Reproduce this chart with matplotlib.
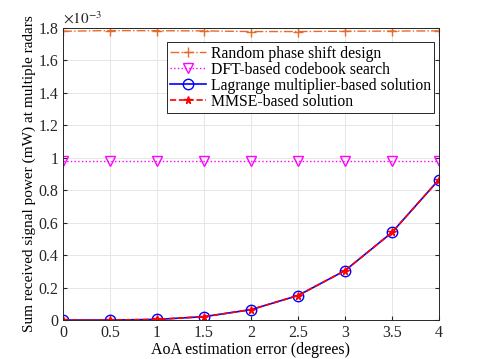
import matplotlib
matplotlib.use("Agg")
import matplotlib.pyplot as plt
from matplotlib.ticker import FuncFormatter
import numpy as np

plt.rcParams["font.family"] = ["Liberation Serif", "DejaVu Serif"]
plt.rcParams["mathtext.fontset"] = "stix"

# AoA estimation error (degrees)
aoa_err = [0, 0.5, 1, 1.5, 2, 2.5, 3, 3.5, 4]

# sum received signal power (mW)
random_phase = [1.778e-3, 1.782e-3, 1.781e-3, 1.780e-3, 1.776e-3,
                1.776e-3, 1.778e-3, 1.779e-3, 1.780e-3]
dft_search = [0.980e-3] * 9
lagrange = [0.001e-3, 0.001e-3, 0.005e-3, 0.022e-3, 0.065e-3,
            0.152e-3, 0.305e-3, 0.540e-3, 0.865e-3]
mmse = [0.001e-3, 0.001e-3, 0.005e-3, 0.022e-3, 0.065e-3,
        0.152e-3, 0.305e-3, 0.540e-3, 0.865e-3]

fig = plt.figure(figsize=(4.85, 3.59), dpi=100)
ax = fig.add_axes([0.13, 0.108, 0.775, 0.815])

ax.plot(aoa_err, random_phase, linestyle="-.", color="#e8692a", marker="+",
        markersize=7, linewidth=1, label="Random phase shift design")
ax.plot(aoa_err, dft_search, linestyle=":", color="magenta", marker="v",
        markersize=6.5, markerfacecolor="none", linewidth=1,
        label="DFT-based codebook search")
ax.plot(aoa_err, lagrange, linestyle="-", color="blue", marker="o",
        markersize=7.5, markerfacecolor="none", linewidth=1.2,
        label="Lagrange multiplier-based solution")
ax.plot(aoa_err, mmse, linestyle="--", color="red", marker="*",
        markersize=5.5, linewidth=1.2, label="MMSE-based solution")

ax.set_xlim(0, 4)
ax.set_ylim(0, 1.8e-3)
ax.set_xticks(np.arange(0, 4.01, 0.5))
ax.set_xticklabels(["0", "0.5", "1", "1.5", "2", "2.5", "3", "3.5", "4"])
ax.set_yticks(np.arange(0, 1.81e-3, 0.2e-3))
ax.yaxis.set_major_formatter(FuncFormatter(lambda v, p: f"{v * 1e3:g}"))
ax.text(0.0, 1.005, r"$\times 10^{-3}$", transform=ax.transAxes,
        fontsize=11, ha="left", va="bottom", color="#262626")

ax.grid(True, color="#e6e6e6", linewidth=0.7)
ax.set_axisbelow(True)
for s in ax.spines.values():
    s.set_color("#262626")
    s.set_linewidth(0.7)
ax.tick_params(direction="in", labelsize=11.5, colors="#262626", length=3,
               top=True, right=True)

ax.set_xlabel("AoA estimation error (degrees)", fontsize=11.5, labelpad=1)
ax.set_ylabel("Sum received signal power (mW) at multiple radars", fontsize=11,
              labelpad=2)

leg = ax.legend(loc="upper right", bbox_to_anchor=(0.995, 0.96), fontsize=11.3,
                fancybox=False, framealpha=1, edgecolor="#262626",
                handlelength=2.3, handletextpad=0.3, borderpad=0.2,
                labelspacing=0.0, borderaxespad=0.2)
leg.get_frame().set_linewidth(0.7)

fig.savefig("out.png", dpi=100)
